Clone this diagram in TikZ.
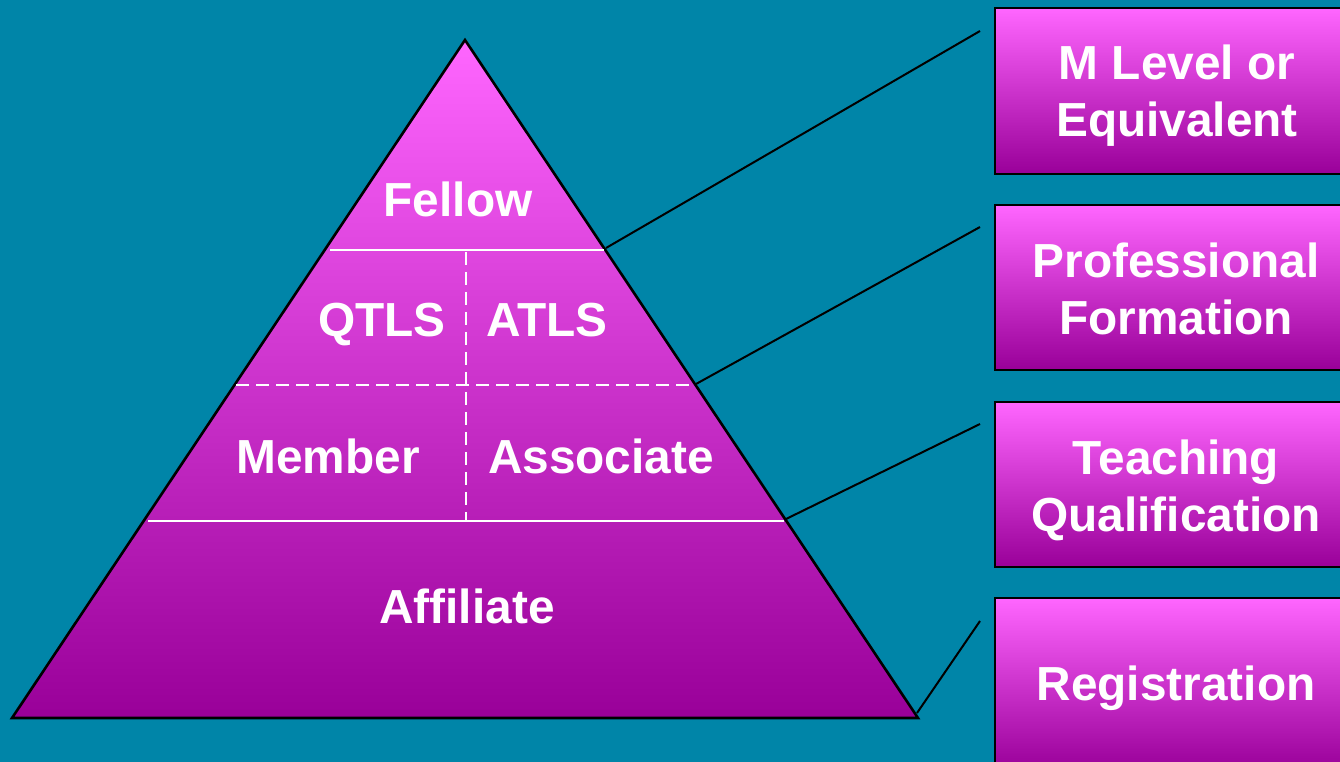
\documentclass[tikz,border=0pt]{standalone}
\usepackage{fontspec}
\setmainfont{Liberation Sans}
\definecolor{bgteal}{RGB}{0,133,168}
\definecolor{pinktop}{RGB}{255,102,255}
\definecolor{pinkbot}{RGB}{153,0,153}
\begin{document}
\begin{tikzpicture}[x=1pt,y=-1pt,
  lbl/.style={font=\fontsize{47.8}{56}\bfseries\selectfont, text=white, anchor=base, inner sep=0pt},
  boxshape/.style={draw=black, line width=2.4pt, top color=pinktop, bottom color=pinkbot},
  divsolid/.style={draw=white, line width=2.8pt},
  divdash/.style={draw=white, line width=2.8pt, dash pattern=on 13pt off 7pt},
  conn/.style={draw=black, line width=2pt}]
\clip (0,0) rectangle (1340,762);
\fill[bgteal] (0,0) rectangle (1340,762);
% pyramid
\coordinate (apex) at (465,40);
\coordinate (bl) at (12,718);
\coordinate (br) at (918,718);
\draw[black, line width=2.6pt, line join=miter, top color=pinktop, bottom color=pinkbot] (apex) -- (br) -- (bl) -- cycle;
% dividers
\coordinate (l1L) at (330,250); \coordinate (l1R) at (604,250);
\coordinate (l2L) at (236,385); \coordinate (l2R) at (694,385);
\coordinate (l3L) at (148,521); \coordinate (l3R) at (784,521);
\coordinate (vT) at (466,252); \coordinate (vB) at (466,520);
\draw[divsolid] (l1L) -- (l1R);
\draw[divdash] (l2L) -- (l2R);
\draw[divsolid] (l3L) -- (l3R);
\draw[divdash] (vT) -- (vB);
% labels in pyramid
\node[lbl] (fellow) at (458,216) {Fellow};
\node[lbl] (qtls) at (382,336) {QTLS};
\node[lbl] (atls) at (547,336) {ATLS};
\node[lbl] (member) at (328,473) {Member};
\node[lbl] (assoc) at (601,473) {Associate};
\node[lbl] (affil) at (467,623) {Affiliate};
% boxes
\path[boxshape] (995,8) rectangle (1362,174);
\path[boxshape] (995,205) rectangle (1362,370);
\path[boxshape] (995,402) rectangle (1362,567);
\path[boxshape] (995,598) rectangle (1362,770);
\node[lbl] (b1a) at (1177,80) {M Level or};
\node[lbl] (b1b) at (1177,137) {Equivalent};
\node[lbl] (b2a) at (1176,277) {Professional};
\node[lbl] (b2b) at (1176,334) {Formation};
\node[lbl] (b3a) at (1176,474) {Teaching};
\node[lbl] (b3b) at (1176,531) {Qualification};
\node[lbl] (b4a) at (1176,700) {Registration};
% connectors
\coordinate (c1s) at (606,248); \coordinate (c1e) at (980,31);
\coordinate (c2s) at (696,384); \coordinate (c2e) at (980,227);
\coordinate (c3s) at (786,519); \coordinate (c3e) at (980,424);
\coordinate (c4s) at (917,713); \coordinate (c4e) at (980,621);
\draw[conn] (c1s) -- (c1e);
\draw[conn] (c2s) -- (c2e);
\draw[conn] (c3s) -- (c3e);
\draw[conn] (c4s) -- (c4e);
\end{tikzpicture}
\end{document}
